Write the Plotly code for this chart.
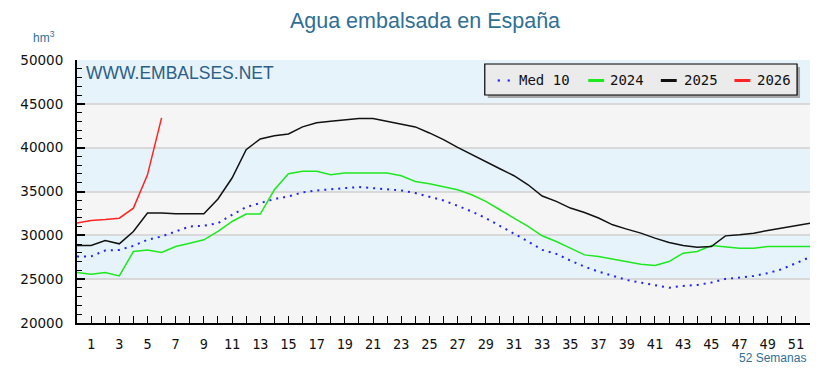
import plotly.graph_objects as go

# ---------------- data ----------------
weeks = list(range(0, 53))
label_weeks = list(range(1, 52, 2))
week_labels = [str(w) for w in label_weeks]

med10 = [27580, 27600, 28270, 28340, 28800, 29490, 29870, 30440, 31010, 31090,
         31390, 32340, 33220, 33680, 34140, 34440, 34890, 35120, 35280, 35390,
         35510, 35390, 35280, 35120, 34820, 34440, 33980, 33370, 32720, 31970,
         31090, 30250, 29300, 28340, 27890, 27120, 26430, 25860, 25370, 24910,
         24610, 24340, 24030, 24230, 24340, 24610, 25030, 25180, 25370, 25680,
         26140, 26820, 27510]

y2024 = [25750, 25570, 25750, 25370, 28150, 28340, 28040, 28720, 29100, 29490,
         30440, 31580, 32420, 32420, 35200, 37030, 37300, 37300, 36920, 37110,
         37110, 37110, 37110, 36800, 36150, 35890, 35580, 35200, 34630, 33870,
         32920, 31970, 31010, 29950, 29300, 28540, 27770, 27580, 27280, 26940,
         26710, 26550, 27010, 27970, 28150, 28840, 28720, 28540, 28540, 28720,
         28720, 28720, 28720]

y2025 = [28840, 28840, 29400, 29030, 30440, 32540, 32540, 32450, 32450, 32450,
         34140, 36540, 39770, 41000, 41370, 41570, 42370, 42830, 43010, 43200,
         43320, 43320, 43010, 42750, 42370, 41680, 40920, 40040, 39200, 38440,
         37600, 36800, 35770, 34480, 33870, 33110, 32610, 31970, 31200, 30710,
         30250, 29680, 29180, 28840, 28650, 28720, 29940, 30060, 30250, 30550,
         30820, 31090, 31390]

y2026 = [31400, 31690, 31800, 31960, 33100, 36900, 43400]

series_names = ["Med 10", "2024", "2025", "2026"]
y_ticks = [20000, 25000, 30000, 35000, 40000, 45000, 50000]
blue_bands = [(25000, 30000), (35000, 40000), (45000, 50000)]

# ---------------- geometry (page pixels) ----------------
OFF = 8                       # page body margin
PL, PR, PT, PB = 73, 810, 60, 323   # plot area edges on the page
W, H = 829 - OFF, 378 - OFF
L, T = PL - OFF, PT - OFF
R, B = W - (PR - OFF), H - (PB - OFF)
PW, PH = PR - PL, PB - PT


def px2x(px):
    return (px - PL) / PW


def py2y(py):
    return (PB - py) / PH


C_BLUE, C_GREEN, C_BLACK, C_RED = "#2222ff", "#1ee81e", "#111111", "#ff2424"

fig = go.Figure()
fig.add_trace(go.Scatter(x=weeks, y=med10, mode="lines", name=series_names[0],
                         line=dict(color=C_BLUE, width=2, dash="2px,5px"), showlegend=False))
fig.add_trace(go.Scatter(x=weeks, y=y2024, mode="lines", name=series_names[1],
                         line=dict(color=C_GREEN, width=1.5), showlegend=False))
fig.add_trace(go.Scatter(x=weeks, y=y2025, mode="lines", name=series_names[2],
                         line=dict(color=C_BLACK, width=1.5), showlegend=False))
fig.add_trace(go.Scatter(x=weeks[:len(y2026)], y=y2026, mode="lines", name=series_names[3],
                         line=dict(color=C_RED, width=1.5), showlegend=False))

shapes = []
for y0, y1 in blue_bands:
    shapes.append(dict(type="rect", xref="paper", yref="y", x0=0, x1=1, y0=y0, y1=y1,
                       fillcolor="#e7f3fb", line=dict(width=0), layer="below"))

# legend box (shadow + box)
bx0, bx1, by0, by1 = 483, 797, 64, 95
shapes.append(dict(type="rect", xref="paper", yref="paper",
                   x0=px2x(bx0 + 3), x1=px2x(bx1 + 3), y0=py2y(by1 + 3), y1=py2y(by0 + 3),
                   fillcolor="#a8a8a8", line=dict(width=0), layer="above"))
shapes.append(dict(type="rect", xref="paper", yref="paper",
                   x0=px2x(bx0), x1=px2x(bx1), y0=py2y(by1), y1=py2y(by0),
                   fillcolor="#ebebeb", line=dict(color="#000000", width=1.2), layer="above"))
ly = 80.5
for dx in (496, 506):
    shapes.append(dict(type="rect", xref="paper", yref="paper",
                       x0=px2x(dx), x1=px2x(dx + 2.2), y0=py2y(ly + 1.1), y1=py2y(ly - 1.1),
                       fillcolor=C_BLUE, line=dict(width=0), layer="above"))
leg_items = [(587, 603, C_GREEN), (660, 676, C_BLACK), (734, 750, C_RED)]
for x0, x1, col in leg_items:
    shapes.append(dict(type="line", xref="paper", yref="paper",
                       x0=px2x(x0), x1=px2x(x1), y0=py2y(ly), y1=py2y(ly),
                       line=dict(color=col, width=3), layer="above"))

annotations = []
leg_text_x = [515, 607, 681, 755]
for name, tx in zip(series_names, leg_text_x):
    annotations.append(dict(text=name, xref="paper", yref="paper", x=px2x(tx), y=py2y(ly),
                            xanchor="left", yanchor="middle", showarrow=False,
                            font=dict(family="DejaVu Sans Mono", size=14, color="#111111")))

annotations.append(dict(text="WWW.EMBALSES.NET", xref="paper", yref="paper",
                        x=px2x(80), y=py2y(73), xanchor="left", yanchor="middle", showarrow=False,
                        font=dict(family="Liberation Sans, Arial", size=17.5, color="#2b6088")))
annotations.append(dict(text="hm<sup>3</sup>", xref="paper", yref="paper",
                        x=px2x(40), y=py2y(37), xanchor="center", yanchor="middle", showarrow=False,
                        font=dict(family="Liberation Sans, Arial", size=12, color="#2f6f96")))
annotations.append(dict(text="52 Semanas", xref="paper", yref="paper",
                        x=px2x(808), y=py2y(357.5), xanchor="right", yanchor="middle", showarrow=False,
                        font=dict(family="Liberation Sans Narrow, Liberation Sans, Arial", size=12,
                                  color="#2f6f96")))

fig.update_layout(
    width=W, height=H,
    margin=dict(l=L, r=R, t=T, b=B, pad=0),
    paper_bgcolor="#ffffff",
    plot_bgcolor="#f5f5f5",
    title=dict(text="Agua embalsada en España", x=(425 - OFF) / W, xanchor="center",
               y=1 - (20 - OFF) / H, yanchor="middle", yref="container",
               font=dict(family="Liberation Sans, Arial", size=21.5, color="#2f6f96")),
    shapes=shapes,
    annotations=annotations,
    showlegend=False,
)

fig.update_xaxes(
    range=[0, 52], tickmode="array", tickvals=label_weeks, ticktext=week_labels,
    ticks="inside", ticklen=7, tickwidth=1.3, tickcolor="#000000",
    minor=dict(tick0=0, dtick=1, ticks="inside", ticklen=7, tickwidth=1.3,
               tickcolor="#000000", showgrid=False),
    showline=True, linecolor="#000000", linewidth=2, showgrid=False, zeroline=False,
    tickfont=dict(family="DejaVu Sans Mono", size=13.5, color="#111111"),
    ticklabelstandoff=8,
)
fig.update_yaxes(
    range=[20000, 50000], tickmode="array", tickvals=y_ticks,
    ticktext=[str(v) for v in y_ticks],
    ticks="inside", ticklen=8, tickwidth=1.5, tickcolor="#000000",
    minor=dict(dtick=1000, ticks="inside", ticklen=5, tickwidth=1.3, tickcolor="#000000",
               showgrid=False),
    showline=True, linecolor="#000000", linewidth=2,
    showgrid=True, gridcolor="#d9d9d9", gridwidth=2, zeroline=False,
    tickfont=dict(family="DejaVu Sans, Verdana", size=13.5, color="#111111"),
    ticklabelstandoff=9,
)

fig.write_html("out.html")
